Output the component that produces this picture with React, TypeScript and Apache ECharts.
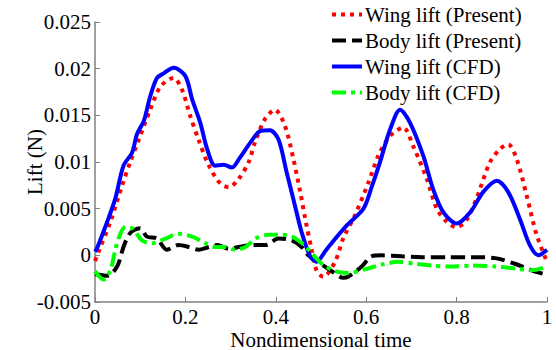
import React, { useEffect, useRef } from "react";
import * as echarts from "echarts";

const wingPresentT = [0, 0.008, 0.034, 0.06, 0.078, 0.097, 0.122, 0.145, 0.174, 0.192, 0.211, 0.229, 0.252, 0.277, 0.296, 0.318, 0.34, 0.354, 0.376, 0.398, 0.42, 0.439, 0.454, 0.468, 0.479, 0.49, 0.505, 0.531, 0.549, 0.575, 0.605, 0.627, 0.653, 0.682, 0.704, 0.734, 0.756, 0.778, 0.8, 0.822, 0.844, 0.874, 0.896, 0.914, 0.933, 0.955, 0.977, 1.0];
const wingPresentV = [-0.0006, 0.0004, 0.0036, 0.0075, 0.01, 0.0124, 0.0156, 0.0181, 0.019, 0.0178, 0.0149, 0.0124, 0.0096, 0.0077, 0.0073, 0.0082, 0.01, 0.0121, 0.0146, 0.0156, 0.0139, 0.0103, 0.0068, 0.0032, 0.0007, -0.0016, -0.0023, -0.0007, 0.0018, 0.0043, 0.0078, 0.0107, 0.0128, 0.0137, 0.0117, 0.0082, 0.005, 0.0036, 0.003, 0.0038, 0.0061, 0.01, 0.0114, 0.0119, 0.0103, 0.0064, 0.0022, -0.0007];

const bodyPresentT = [0, 0.027, 0.049, 0.063, 0.075, 0.086, 0.1, 0.115, 0.137, 0.159, 0.185, 0.207, 0.229, 0.252, 0.27, 0.296, 0.318, 0.347, 0.377, 0.406, 0.435, 0.457, 0.472, 0.502, 0.524, 0.549, 0.56, 0.59, 0.612, 0.634, 0.679, 0.723, 0.782, 0.833, 0.885, 0.929, 0.966, 1.0];
const bodyPresentV = [-0.002, -0.0022, -0.0012, 0.0009, 0.0022, 0.0027, 0.0029, 0.002, 0.0018, 0.0006, 0.0011, 0.0009, 0.0006, 0.0009, 0.0011, 0.0007, 0.0009, 0.0011, 0.0011, 0.0018, 0.0016, 0.0009, 0, -0.001, -0.0017, -0.0024, -0.0023, -0.0012, -0.0001, 0, -0.0001, -0.0002, -0.0002, -0.0002, -0.0003, -0.0009, -0.0016, -0.0021];

const wingCfdT = [0, 0.004, 0.027, 0.045, 0.063, 0.082, 0.093, 0.108, 0.122, 0.137, 0.152, 0.174, 0.2, 0.215, 0.233, 0.248, 0.266, 0.285, 0.303, 0.321, 0.344, 0.365, 0.387, 0.406, 0.424, 0.442, 0.457, 0.476, 0.49, 0.509, 0.52, 0.557, 0.594, 0.612, 0.63, 0.653, 0.675, 0.697, 0.726, 0.748, 0.771, 0.8, 0.83, 0.859, 0.889, 0.914, 0.94, 0.962, 0.981, 1.0];
const wingCfdV = [0.0004, 0.0007, 0.0036, 0.0061, 0.0096, 0.011, 0.013, 0.0144, 0.017, 0.019, 0.0195, 0.0201, 0.0192, 0.0167, 0.0142, 0.0114, 0.0096, 0.0097, 0.0094, 0.0105, 0.0121, 0.0133, 0.0134, 0.0124, 0.0089, 0.0054, 0.0025, -0.0001, -0.0007, 0.0004, 0.0011, 0.0032, 0.005, 0.0073, 0.0099, 0.0135, 0.0156, 0.0142, 0.0107, 0.0071, 0.0046, 0.0034, 0.0046, 0.0068, 0.008, 0.0068, 0.0039, 0.0011, 0.0, 0.0006];

const bodyCfdT = [0, 0.019, 0.034, 0.045, 0.056, 0.067, 0.082, 0.104, 0.126, 0.156, 0.185, 0.215, 0.244, 0.266, 0.288, 0.31, 0.333, 0.355, 0.384, 0.414, 0.436, 0.458, 0.48, 0.502, 0.531, 0.56, 0.597, 0.634, 0.671, 0.708, 0.745, 0.789, 0.833, 0.885, 0.929, 0.966, 1.0];
const bodyCfdV = [-0.0017, -0.0026, -0.0016, 0.0006, 0.0023, 0.003, 0.0029, 0.0016, 0.0013, 0.0018, 0.0023, 0.002, 0.0013, 0.0009, 0.0009, 0.0006, 0.0009, 0.0018, 0.0022, 0.0022, 0.002, 0.0013, 0.0002, -0.0009, -0.0017, -0.0019, -0.0015, -0.001, -0.0007, -0.0009, -0.0011, -0.0012, -0.0011, -0.0012, -0.0014, -0.0016, -0.0012];

const seriesNames = ["Wing lift (Present)", "Body lift (Present)", "Wing lift (CFD)", "Body lift (CFD)"];
const xTitle = "Nondimensional time";
const yTitle = "Lift (N)";

const FONT = "Liberation Serif";
const FS = 21;

const pairs = (t: number[], v: number[]) => t.map((x, i) => [x, v[i]]);

export default function App() {
  const ref = useRef<HTMLDivElement>(null);
  useEffect(() => {
    if (!ref.current) return;
    const chart = echarts.init(ref.current, undefined, { renderer: "svg" });
    const mk = (name: string, data: number[][], color: string, type: any) => ({
      name,
      type: "line",
      data,
      symbol: "none",
      showSymbol: false,
      smooth: 0.3,
      lineStyle: { color, width: 4, type, cap: "butt" },
      itemStyle: { color },
    });
    chart.setOption({
      animation: false,
      textStyle: { fontFamily: FONT },
      grid: { left: 95, top: 22, width: 452, height: 280, containLabel: false, outerBoundsMode: "none" },
      legend: {
        orient: "vertical",
        left: 330,
        top: 4,
        padding: 0,
        itemWidth: 30,
        itemHeight: 14,
        itemGap: 5,
        itemStyle: { opacity: 0 },
        lineStyle: { width: 4 },
        textStyle: { fontSize: FS, fontFamily: FONT, color: "#000", lineHeight: 21, padding: [0, 0, 0, -2] },
        data: seriesNames,
      },
      xAxis: {
        type: "value",
        min: 0,
        max: 1,
        interval: 0.2,
        name: xTitle,
        nameLocation: "middle",
        nameGap: 27,
        nameMoveOverlap: false,
        nameTextStyle: { fontSize: FS, fontFamily: FONT, color: "#000" },
        axisLine: { onZero: false, lineStyle: { color: "#808080", width: 1.5 } },
        axisTick: { inside: true, length: 5, lineStyle: { color: "#808080" } },
        axisLabel: { fontSize: FS, fontFamily: FONT, color: "#000", margin: 4 },
        splitLine: { show: false },
      },
      yAxis: {
        type: "value",
        min: -0.005,
        max: 0.025,
        interval: 0.005,
        name: yTitle,
        nameLocation: "middle",
        nameGap: 50,
        nameMoveOverlap: false,
        nameTextStyle: { fontSize: FS, fontFamily: FONT, color: "#000" },
        axisLine: { show: true, onZero: false, lineStyle: { color: "#808080", width: 1.5 } },
        axisTick: { show: true, inside: true, length: 5, lineStyle: { color: "#808080" } },
        axisLabel: { fontSize: FS, fontFamily: FONT, color: "#000", margin: 4 },
        splitLine: { show: false },
      },
      series: [
        mk(seriesNames[0], pairs(wingPresentT, wingPresentV), "#ff0000", [4, 5]),
        mk(seriesNames[1], pairs(bodyPresentT, bodyPresentV), "#000000", [14, 6]),
        mk(seriesNames[2], pairs(wingCfdT, wingCfdV), "#0000ff", "solid"),
        mk(seriesNames[3], pairs(bodyCfdT, bodyCfdV), "#00ff00", [14, 5, 4, 5]),
      ],
    });
    return () => chart.dispose();
  }, []);
  return (
    <div
      ref={ref}
      style={{ position: "fixed", left: 0, top: 0, width: 556, height: 350, background: "#fff" }}
    />
  );
}
